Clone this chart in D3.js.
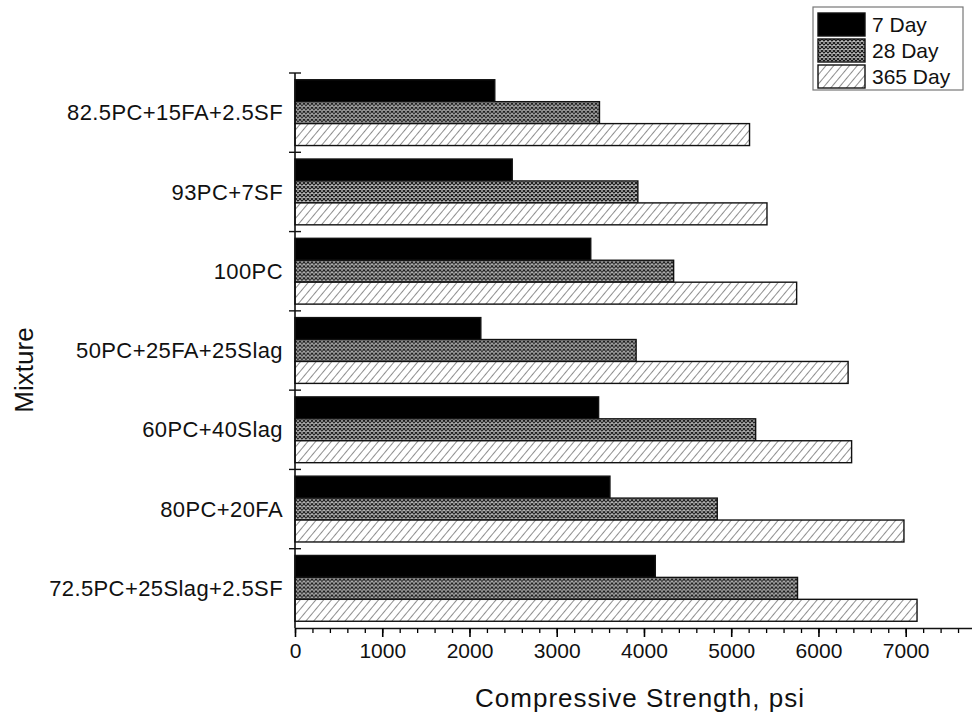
<!DOCTYPE html>
<html>
<head>
<meta charset="utf-8">
<script src="https://cdn.jsdelivr.net/npm/d3@7"></script>
<style>
  html, body { margin: 0; padding: 0; background: #fff; }
  svg { display: block; font-family: "Liberation Sans", Arial, sans-serif; }
</style>
</head>
<body>
<svg id="chart" width="972" height="715"></svg>
<script>
const categories = ["82.5PC+15FA+2.5SF", "93PC+7SF", "100PC", "50PC+25FA+25Slag", "60PC+40Slag", "80PC+20FA", "72.5PC+25Slag+2.5SF"];
const seriesNames = ["7 Day", "28 Day", "365 Day"];
const day7 = [2290, 2490, 3390, 2130, 3480, 3610, 4130];
const day28 = [3490, 3930, 4340, 3910, 5280, 4840, 5760];
const day365 = [5210, 5410, 5750, 6340, 6380, 6980, 7130];
const xTickValues = [0, 1000, 2000, 3000, 4000, 5000, 6000, 7000];
const xMinorValues = d3.range(0, 7800, 200);

const svg = d3.select("#chart");
const defs = svg.append("defs");

// pattern for 28 day: dense crosshatch
const p28 = defs.append("pattern").attr("id", "p28").attr("patternUnits", "userSpaceOnUse")
  .attr("width", 4).attr("height", 4);
p28.append("rect").attr("width", 4).attr("height", 4).attr("fill", "#bdbdbd");
p28.append("path").attr("d", "M0,0 L4,4 M4,0 L0,4").attr("stroke", "#1a1a1a").attr("stroke-width", 1.15);

// pattern for 365 day: diagonal hatch
const p365 = defs.append("pattern").attr("id", "p365").attr("patternUnits", "userSpaceOnUse")
  .attr("width", 6).attr("height", 6).attr("patternTransform", "rotate(40)");
p365.append("rect").attr("width", 6).attr("height", 6).attr("fill", "#fff");
p365.append("line").attr("x1", 0).attr("y1", 0).attr("x2", 0).attr("y2", 6)
  .attr("stroke", "#444").attr("stroke-width", 1.2);

const fills = ["#000", "url(#p28)", "url(#p365)"];
const seriesData = [day7, day28, day365];

const x = d3.scaleLinear().domain([0, 7760]).range([295, 972]);
const y = d3.scaleBand().domain(categories).range([73, 628]).paddingInner(0.17).paddingOuter(0.085);
const ySub = d3.scaleBand().domain(seriesNames).range([0, y.bandwidth()]);
const yBound = d3.scaleLinear().domain([0, categories.length]).range([73, 628]);

// bars
const groups = svg.append("g").selectAll("g").data(categories).join("g")
  .attr("transform", d => `translate(0,${y(d)})`);
groups.selectAll("rect")
  .data((d, i) => seriesNames.map((s, j) => ({ s, j, v: seriesData[j][i] })))
  .join("rect")
  .attr("x", x(0))
  .attr("y", d => ySub(d.s))
  .attr("width", d => x(d.v) - x(0))
  .attr("height", ySub.bandwidth())
  .attr("fill", d => fills[d.j])
  .attr("stroke", "#111")
  .attr("stroke-width", 1.4);

// x axis
const xAxisG = svg.append("g").attr("transform", "translate(0,628)");
xAxisG.call(d3.axisBottom(x).tickValues(xMinorValues).tickSize(5).tickFormat(""));
xAxisG.call(g => g.select(".domain").remove());
const xMajor = svg.append("g").attr("transform", "translate(0,628)")
  .call(d3.axisBottom(x).tickValues(xTickValues).tickFormat(d3.format("d")).tickSize(9).tickSizeOuter(0).tickPadding(6));
xMajor.select(".domain").attr("stroke-width", 1.6).attr("stroke", "#111");
xMajor.selectAll(".tick line").attr("stroke-width", 1.6);
xAxisG.selectAll(".tick line").attr("stroke-width", 1.3);
xMajor.selectAll("text").attr("font-size", 21).attr("fill", "#111")
  .attr("font-family", "'Liberation Sans', Arial, sans-serif");

// y axis
svg.append("line").attr("x1", 295).attr("x2", 295).attr("y1", 73).attr("y2", 628)
  .attr("stroke", "#111").attr("stroke-width", 1.6);
svg.append("g").selectAll("line").data(d3.range(0, categories.length)).join("line")
  .attr("x1", 289).attr("x2", 301)
  .attr("y1", d => yBound(d)).attr("y2", d => yBound(d))
  .attr("stroke", "#111").attr("stroke-width", 1.4);
svg.append("g").selectAll("text").data(categories).join("text")
  .attr("x", 283)
  .attr("y", d => y(d) + y.bandwidth() / 2)
  .attr("dy", "0.35em")
  .attr("text-anchor", "end")
  .attr("font-size", 22)
  .attr("letter-spacing", 0.4)
  .attr("fill", "#111")
  .text(d => d);

// axis titles
svg.append("text").attr("x", 640).attr("y", 707).attr("text-anchor", "middle")
  .attr("font-size", 26).attr("letter-spacing", 1).attr("fill", "#111").text("Compressive Strength, psi");
svg.append("text").attr("transform", "translate(33,370) rotate(-90)").attr("text-anchor", "middle")
  .attr("font-size", 26).attr("fill", "#111").text("Mixture");

// legend
const lg = svg.append("g");
lg.append("rect").attr("x", 813).attr("y", 7).attr("width", 150).attr("height", 83)
  .attr("fill", "#fff").attr("stroke", "#777").attr("stroke-width", 1.2);
const rowY = [13, 39, 65];
const items = lg.selectAll("g").data(seriesNames).join("g")
  .attr("transform", (d, i) => `translate(818,${rowY[i]})`);
items.append("rect").attr("width", 47).attr("height", 23)
  .attr("fill", (d, i) => fills[i]).attr("stroke", "#111").attr("stroke-width", 1.4);
items.append("text").attr("x", 54).attr("y", 12).attr("dy", "0.35em")
  .attr("font-size", 21).attr("fill", "#111").text(d => d);
</script>
</body>
</html>
